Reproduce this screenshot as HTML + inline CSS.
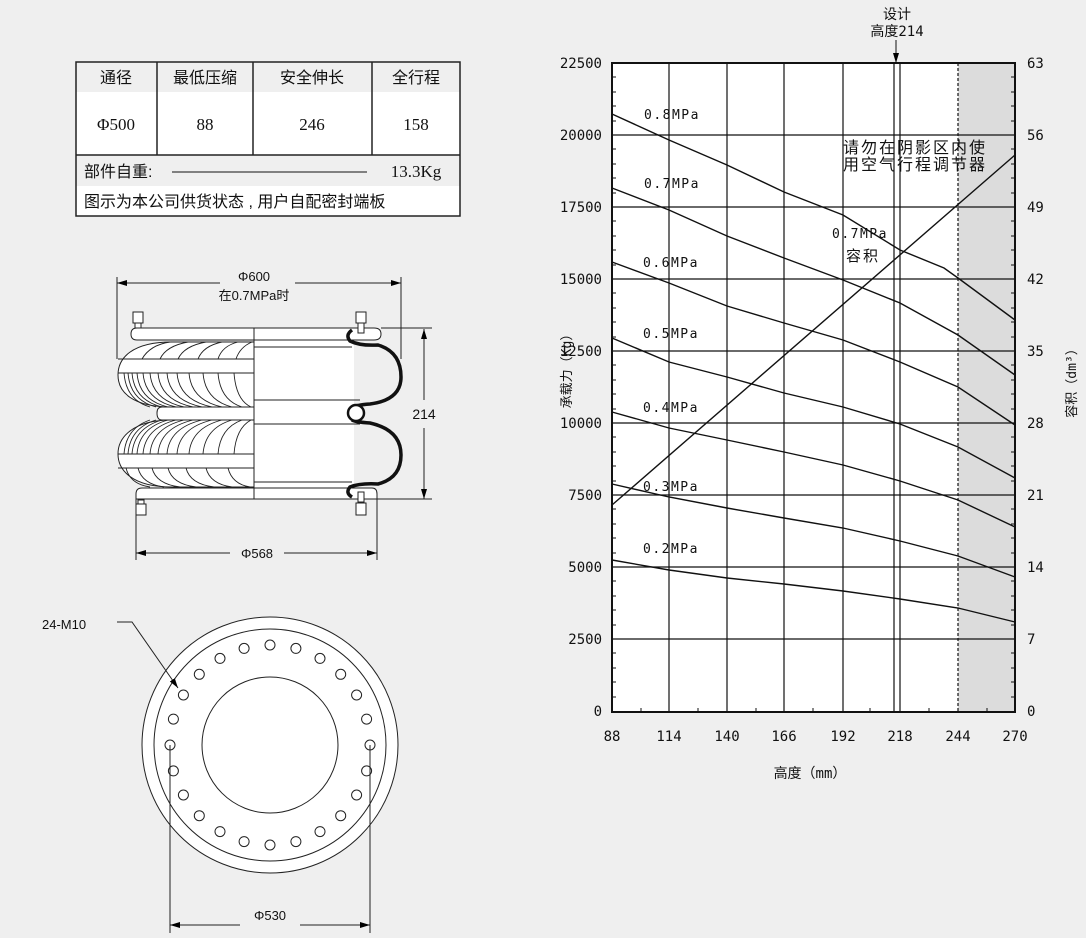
<!DOCTYPE html>
<html><head><meta charset="utf-8"><style>
body{margin:0;background:#efefef;}
svg{display:block}
.t{font-family:"Liberation Sans","Noto Sans CJK SC",sans-serif;}
.m{font-family:"DejaVu Sans Mono","Noto Sans CJK SC",monospace;}
</style></head><body>
<svg width="1086" height="938" viewBox="0 0 1086 938" xmlns="http://www.w3.org/2000/svg">
<rect width="1086" height="938" fill="#efefef"/>
<defs><marker id="a" markerWidth="10" markerHeight="8" refX="10" refY="4" orient="auto" markerUnits="userSpaceOnUse"><path d="M0,1 L10,4 L0,7z" fill="#000"/></marker></defs>

<!-- TABLE -->
<g stroke="#222" stroke-width="1.5" fill="none">
<rect x="76" y="92" width="384" height="63" fill="#fff" stroke="none"/>
<rect x="76" y="186" width="384" height="30" fill="#fff" stroke="none"/>
<rect x="76" y="62" width="384" height="154"/>
<line x1="76" y1="155" x2="460" y2="155"/>
<line x1="157" y1="62" x2="157" y2="155"/>
<line x1="253" y1="62" x2="253" y2="155"/>
<line x1="372" y1="62" x2="372" y2="155"/>
</g>
<g class="t" font-size="16" text-anchor="middle" fill="#111">
<text x="116" y="83">通径</text><text x="205" y="83">最低压缩</text><text x="312" y="83">安全伸长</text><text x="416" y="83">全行程</text>
</g>
<g font-family="Liberation Serif,serif" font-size="17" text-anchor="middle" fill="#111">
<text x="116" y="130">Φ500</text><text x="205" y="130">88</text><text x="312" y="130">246</text><text x="416" y="130">158</text>
<text x="416" y="177">13.3Kg</text>
</g>
<text class="t" x="84" y="177" font-size="16" fill="#111">部件自重:</text>
<line x1="172" y1="172" x2="367" y2="172" stroke="#111" stroke-width="1"/>
<text class="t" x="84" y="207" font-size="16" fill="#111">图示为本公司供货状态 , 用户自配密封端板</text>

<!-- BELLOWS -->
<g stroke="#222" stroke-width="1" fill="#fff">
<line x1="117" y1="277" x2="117" y2="359" fill="none"/>
<line x1="401" y1="277" x2="401" y2="359" fill="none"/>
<line x1="220" y1="283" x2="117" y2="283" marker-end="url(#a)"/>
<line x1="295" y1="283" x2="401" y2="283" marker-end="url(#a)"/>
<rect x="254" y="333" width="100" height="155" stroke="none"/>
<path d="M254,328 H374 Q381,328 381,334 Q381,340 374,340 H254 Z"/>
<path d="M254,328 H137 Q131,328 131,334 Q131,340 137,340 H254 Z"/>
<path d="M254,488 H372 Q377,488 377,494 V499 H136 V494 Q136,488 142,488 Z"/>
<path d="M254,342 H172 C132,342 118,358 118,375 C118,392 132,407 172,407 H254 Z"/>
<path d="M254,407 H162 Q157,407 157,413 Q157,420 162,420 H254 Z"/>
<path d="M254,420 H172 C132,420 118,438 118,454 C118,470 132,487 172,487 H254 Z"/>
<line x1="118" y1="359" x2="254" y2="359"/><line x1="118" y1="373" x2="254" y2="373"/>
<line x1="118" y1="454" x2="254" y2="454"/><line x1="118" y1="468" x2="254" y2="468"/>
</g>
<g stroke="#222" stroke-width="0.9" fill="none">
<path d="M142,359 Q150,345 170,342"/><path d="M160,359 Q166,346 188,342"/><path d="M178,359 Q184,346 206,342"/><path d="M198,359 Q203,346 222,342"/><path d="M218,359 Q222,346 238,342"/><path d="M236,359 Q240,347 252,342"/>
<path d="M124,373 Q126,400 150,407"/><path d="M128,373 Q130,400 156,407"/><path d="M132,373 Q134,400 162,407"/><path d="M137,373 Q139,400 168,407"/><path d="M143,373 Q145,400 176,407"/><path d="M150,373 Q152,400 184,407"/><path d="M158,373 Q160,400 193,407"/><path d="M167,373 Q169,400 202,407"/><path d="M177,373 Q179,400 212,407"/><path d="M189,373 Q191,400 222,407"/><path d="M203,373 Q205,400 232,407"/><path d="M218,373 Q220,400 242,407"/><path d="M234,373 Q236,400 251,407"/>
<path d="M124,454 Q126,428 150,420"/><path d="M128,454 Q130,428 156,420"/><path d="M132,454 Q134,428 162,420"/><path d="M137,454 Q139,428 168,420"/><path d="M143,454 Q145,428 176,420"/><path d="M150,454 Q152,428 184,420"/><path d="M158,454 Q160,428 193,420"/><path d="M167,454 Q169,428 202,420"/><path d="M177,454 Q179,428 212,420"/><path d="M189,454 Q191,428 222,420"/><path d="M203,454 Q205,428 232,420"/><path d="M218,454 Q220,428 242,420"/><path d="M234,454 Q236,428 251,420"/>
<path d="M126,468 Q130,484 150,487"/><path d="M138,468 Q142,484 164,487"/><path d="M152,468 Q156,484 180,487"/><path d="M168,468 Q172,484 196,487"/><path d="M186,468 Q190,484 214,487"/><path d="M206,468 Q210,484 232,487"/><path d="M228,468 Q232,484 250,487"/>
</g>
<g stroke="#222" stroke-width="1" fill="none">
<line x1="254" y1="328" x2="254" y2="499"/>
<line x1="254" y1="347" x2="352" y2="347"/><line x1="254" y1="400" x2="360" y2="400"/>
<line x1="254" y1="424" x2="360" y2="424"/><line x1="254" y1="482" x2="352" y2="482"/>
</g>
<path d="M352,330 Q345,335 350,341 Q360,346 378,345 Q401,352 401,377 Q401,400 370,404 Q355,405 352,408 M352,420 Q355,422 370,423 Q401,430 401,455 Q401,478 378,484 Q360,483 350,487 Q345,493 352,497" stroke="#111" stroke-width="3.5" fill="none"/>
<circle cx="356" cy="413" r="8" fill="#fff" stroke="#111" stroke-width="2.5"/>
<g fill="#fff" stroke="#222" stroke-width="1">
<rect x="133" y="312" width="10" height="11"/><rect x="135" y="323" width="6" height="5"/>
<rect x="356" y="312" width="10" height="11"/><rect x="358" y="323" width="6" height="10"/>
<rect x="138" y="500" width="6" height="4"/><rect x="136" y="504" width="10" height="11"/>
<rect x="358" y="492" width="6" height="10"/><rect x="356" y="503" width="10" height="12"/>
</g>
<g stroke="#222" stroke-width="1" fill="none">
<line x1="381" y1="328" x2="432" y2="328"/><line x1="377" y1="499" x2="432" y2="499"/>
<line x1="424" y1="400" x2="424" y2="329" marker-end="url(#a)"/>
<line x1="424" y1="428" x2="424" y2="499" marker-end="url(#a)"/>
<line x1="136" y1="499" x2="136" y2="560"/><line x1="377" y1="499" x2="377" y2="560"/>
<line x1="230" y1="553" x2="136" y2="553" marker-end="url(#a)"/>
<line x1="284" y1="553" x2="377" y2="553" marker-end="url(#a)"/>
</g>
<g class="t" font-size="13" fill="#111" text-anchor="middle">
<text x="254" y="281">Φ600</text><text x="254" y="300">在0.7MPa时</text>
<text x="424" y="419" font-size="14">214</text>
<text x="257" y="558">Φ568</text>
</g>

<!-- FLANGE -->
<g stroke="#222" stroke-width="1" fill="#fff">
<circle cx="270" cy="745" r="128"/><circle cx="270" cy="745" r="116"/><circle cx="270" cy="745" r="68"/>
<circle cx="370.0" cy="745.0" r="5"/><circle cx="366.6" cy="770.9" r="5"/><circle cx="356.6" cy="795.0" r="5"/><circle cx="340.7" cy="815.7" r="5"/><circle cx="320.0" cy="831.6" r="5"/><circle cx="295.9" cy="841.6" r="5"/><circle cx="270.0" cy="845.0" r="5"/><circle cx="244.1" cy="841.6" r="5"/><circle cx="220.0" cy="831.6" r="5"/><circle cx="199.3" cy="815.7" r="5"/><circle cx="183.4" cy="795.0" r="5"/><circle cx="173.4" cy="770.9" r="5"/><circle cx="170.0" cy="745.0" r="5"/><circle cx="173.4" cy="719.1" r="5"/><circle cx="183.4" cy="695.0" r="5"/><circle cx="199.3" cy="674.3" r="5"/><circle cx="220.0" cy="658.4" r="5"/><circle cx="244.1" cy="648.4" r="5"/><circle cx="270.0" cy="645.0" r="5"/><circle cx="295.9" cy="648.4" r="5"/><circle cx="320.0" cy="658.4" r="5"/><circle cx="340.7" cy="674.3" r="5"/><circle cx="356.6" cy="695.0" r="5"/><circle cx="366.6" cy="719.1" r="5"/>
</g>
<g stroke="#222" stroke-width="1" fill="none">
<polyline points="117,622 132,622 178,688" marker-end="url(#a)"/>
<line x1="170" y1="745" x2="170" y2="933"/><line x1="370" y1="745" x2="370" y2="933"/>
<line x1="240" y1="925" x2="170" y2="925" marker-end="url(#a)"/>
<line x1="300" y1="925" x2="370" y2="925" marker-end="url(#a)"/>
</g>
<text class="t" x="42" y="629" font-size="13" fill="#111">24-M10</text>
<text class="t" x="270" y="920" font-size="13" fill="#111" text-anchor="middle">Φ530</text>

<!-- CHART -->
<rect x="612" y="63" width="403" height="649" fill="#fff"/>
<rect x="958" y="63" width="57" height="649" fill="#dcdcdc"/>
<g stroke="#111" stroke-width="1.2" fill="none">
<line x1="612" y1="135" x2="1015" y2="135"/><line x1="612" y1="207" x2="1015" y2="207"/><line x1="612" y1="279" x2="1015" y2="279"/><line x1="612" y1="351" x2="1015" y2="351"/><line x1="612" y1="423" x2="1015" y2="423"/><line x1="612" y1="495" x2="1015" y2="495"/><line x1="612" y1="567" x2="1015" y2="567"/><line x1="612" y1="639" x2="1015" y2="639"/>
<line x1="669" y1="63" x2="669" y2="712"/><line x1="727" y1="63" x2="727" y2="712"/><line x1="784" y1="63" x2="784" y2="712"/><line x1="843" y1="63" x2="843" y2="712"/>
<line x1="894" y1="63" x2="894" y2="712"/><line x1="900" y1="63" x2="900" y2="712"/>
<line x1="958" y1="63" x2="958" y2="712" stroke-dasharray="3,2"/>
</g>
<rect x="612" y="63" width="403" height="649" fill="none" stroke="#111" stroke-width="2"/>
<g stroke="#111" stroke-width="1">
<path d="M612,77h4M612,92h4M612,106h4M612,121h4M612,149h4M612,164h4M612,178h4M612,193h4M612,221h4M612,236h4M612,250h4M612,265h4M612,293h4M612,308h4M612,322h4M612,337h4M612,365h4M612,380h4M612,394h4M612,409h4M612,437h4M612,452h4M612,466h4M612,481h4M612,509h4M612,524h4M612,538h4M612,553h4M612,581h4M612,596h4M612,610h4M612,625h4M612,653h4M612,668h4M612,682h4M612,697h4"/>
<path d="M1015,77h-4M1015,92h-4M1015,106h-4M1015,121h-4M1015,149h-4M1015,164h-4M1015,178h-4M1015,193h-4M1015,221h-4M1015,236h-4M1015,250h-4M1015,265h-4M1015,293h-4M1015,308h-4M1015,322h-4M1015,337h-4M1015,365h-4M1015,380h-4M1015,394h-4M1015,409h-4M1015,437h-4M1015,452h-4M1015,466h-4M1015,481h-4M1015,509h-4M1015,524h-4M1015,538h-4M1015,553h-4M1015,581h-4M1015,596h-4M1015,610h-4M1015,625h-4M1015,653h-4M1015,668h-4M1015,682h-4M1015,697h-4"/>
<path d="M641,712v-4M698,712v-4M756,712v-4M813,712v-4M870,712v-4M929,712v-4M987,712v-4"/>
</g>
<g stroke="#111" stroke-width="1.4" fill="none">
<polyline points="612,114 669,140 727,165 784,192 843,215 900,250 944,268 958,278 1015,320"/>
<polyline points="612,188 669,210 727,236 784,258 843,280 900,303 958,335 1015,375"/>
<polyline points="612,262 669,283 727,306 784,323 843,340 900,362 958,387 1015,425"/>
<polyline points="612,338 669,362 727,377 784,393 843,407 900,424 958,447 1015,478"/>
<polyline points="612,412 669,428 727,440 784,452 843,465 900,481 958,500 1015,527"/>
<polyline points="612,484 669,497 727,508 784,518 843,528 900,541 958,556 1015,577"/>
<polyline points="612,560 669,570 727,578 784,584 843,591 900,599 958,608 1015,622"/>
<line x1="612" y1="505" x2="1015" y2="155"/>
<line x1="896" y1="40" x2="896" y2="63" marker-end="url(#a)" stroke-width="1"/>
</g>
<g class="m" font-size="14" fill="#111">
<g text-anchor="end"><text x="602" y="68">22500</text><text x="602" y="140">20000</text><text x="602" y="212">17500</text><text x="602" y="284">15000</text><text x="602" y="356">12500</text><text x="602" y="428">10000</text><text x="602" y="500">7500</text><text x="602" y="572">5000</text><text x="602" y="644">2500</text><text x="602" y="716">0</text></g>
<text x="1027" y="68">63</text><text x="1027" y="140">56</text><text x="1027" y="212">49</text><text x="1027" y="284">42</text><text x="1027" y="356">35</text><text x="1027" y="428">28</text><text x="1027" y="500">21</text><text x="1027" y="572">14</text><text x="1027" y="644">7</text><text x="1027" y="716">0</text>
<g text-anchor="middle"><text x="612" y="741">88</text><text x="669" y="741">114</text><text x="727" y="741">140</text><text x="784" y="741">166</text><text x="843" y="741">192</text><text x="900" y="741">218</text><text x="958" y="741">244</text><text x="1015" y="741">270</text>
<text x="810" y="778">高度（mm）</text>
<text x="897" y="19">设计</text><text x="897" y="36">高度214</text></g>
<g font-size="13" letter-spacing="1.5"><text x="644" y="119">0.8MPa</text><text x="644" y="188">0.7MPa</text><text x="643" y="267">0.6MPa</text><text x="643" y="338">0.5MPa</text><text x="643" y="412">0.4MPa</text><text x="643" y="491">0.3MPa</text><text x="643" y="553">0.2MPa</text><text x="832" y="238">0.7MPa</text></g>
<text x="846" y="261" font-size="15" letter-spacing="2">容积</text>
<text x="843" y="153" font-size="16" letter-spacing="2">请勿在阴影区内使</text><text x="843" y="170" font-size="16" letter-spacing="2">用空气行程调节器</text>
<text transform="translate(571,368) rotate(-90)" text-anchor="middle" font-size="13">承载力（Kg）</text>
<text transform="translate(1076,380) rotate(-90)" text-anchor="middle" font-size="13">容积（dm³）</text>
</g>
</svg>
</body></html>
